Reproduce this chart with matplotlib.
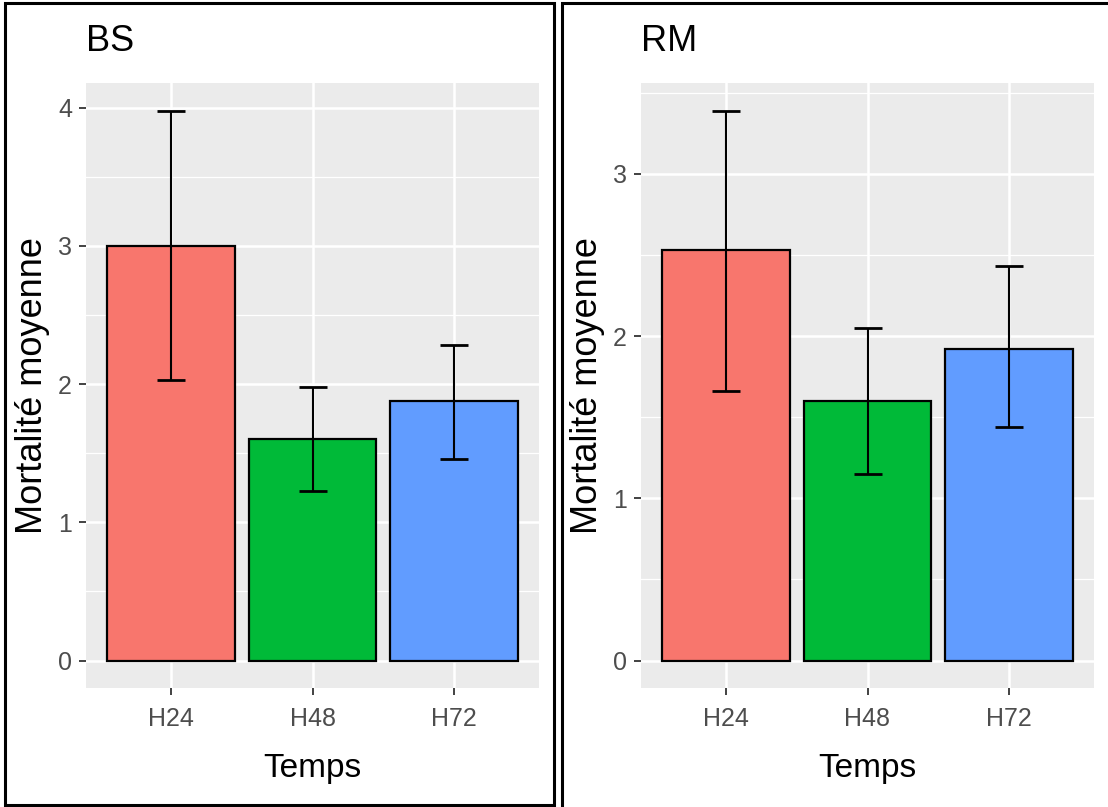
import matplotlib
matplotlib.use("Agg")
import matplotlib.pyplot as plt
from matplotlib.patches import Rectangle
from matplotlib.ticker import MultipleLocator
import numpy as np

plt.rcParams['font.family'] = ['Liberation Sans', 'DejaVu Sans']

temps = ['H24', 'H48', 'H72']
colors = ['#F8766D', '#00BA38', '#619CFF']

# BS panel
bs_mean = [3.00, 1.60, 1.88]
bs_low = [2.03, 1.23, 1.46]
bs_high = [3.98, 1.98, 2.28]

# RM panel
rm_mean = [2.53, 1.60, 1.92]
rm_low = [1.66, 1.15, 1.44]
rm_high = [3.39, 2.05, 2.43]

W, H = 1108, 807
fig = plt.figure(figsize=(W / 100, H / 100), dpi=100)


def px(x0, y0, x1, y1):
    # pixel box -> figure fraction [left, bottom, width, height]
    return [x0 / W, 1 - y1 / H, (x1 - x0) / W, (y1 - y0) / H]


def panel(rect, title, mean, low, high):
    ax = fig.add_axes(rect)
    ax.set_facecolor('#EBEBEB')
    x = np.arange(len(temps)) + 1
    ax.bar(x, mean, width=0.9, color=colors, edgecolor='black', linewidth=1.6, zorder=3)
    err = [np.array(mean) - np.array(low), np.array(high) - np.array(mean)]
    ax.errorbar(x, mean, yerr=err, fmt='none', ecolor='black', elinewidth=1.5,
                capsize=10, capthick=2.0, zorder=4)
    top = max(high)
    ax.set_ylim(-0.05 * top, top * 1.05)
    ax.set_xlim(0.4, 3.6)
    ax.yaxis.set_major_locator(MultipleLocator(1))
    ax.yaxis.set_minor_locator(MultipleLocator(0.5))
    ax.set_xticks(x)
    ax.set_xticklabels(temps)
    ax.grid(which='major', color='white', linewidth=1.8, zorder=0)
    ax.grid(which='minor', axis='y', color='white', linewidth=0.9, zorder=0)
    ax.set_axisbelow(True)
    for s in ax.spines.values():
        s.set_visible(False)
    ax.tick_params(which='major', length=5, width=1.3, color='#333333',
                   labelcolor='#4D4D4D', labelsize=18, pad=5)
    ax.tick_params(axis='x', pad=9)
    ax.tick_params(which='minor', length=0)
    ax.set_xlabel('Temps', fontsize=24, color='black')
    ax.xaxis.set_label_coords(0.5, -0.108)
    ax.set_ylabel('Mortalité moyenne', fontsize=26, color='black')
    ax.yaxis.set_label_coords(-0.08, 0.5)
    ax.text(0.0, 1.04, title, transform=ax.transAxes, fontsize=26,
            ha='left', va='bottom')
    return ax


panel(px(86, 83, 539, 688), 'BS', bs_mean, bs_low, bs_high)
panel(px(641, 83, 1094, 688), 'RM', rm_mean, rm_low, rm_high)

# black frames around each panel
lw = 2.2
b = px(5, 3, 554, 805)
fig.patches.append(Rectangle((b[0], b[1]), b[2], b[3], transform=fig.transFigure,
                             fill=False, edgecolor='black', linewidth=lw))
b = px(562, 3, 1120, 820)
fig.patches.append(Rectangle((b[0], b[1]), b[2], b[3], transform=fig.transFigure,
                             fill=False, edgecolor='black', linewidth=lw))

plt.savefig('out.png', dpi=100)
